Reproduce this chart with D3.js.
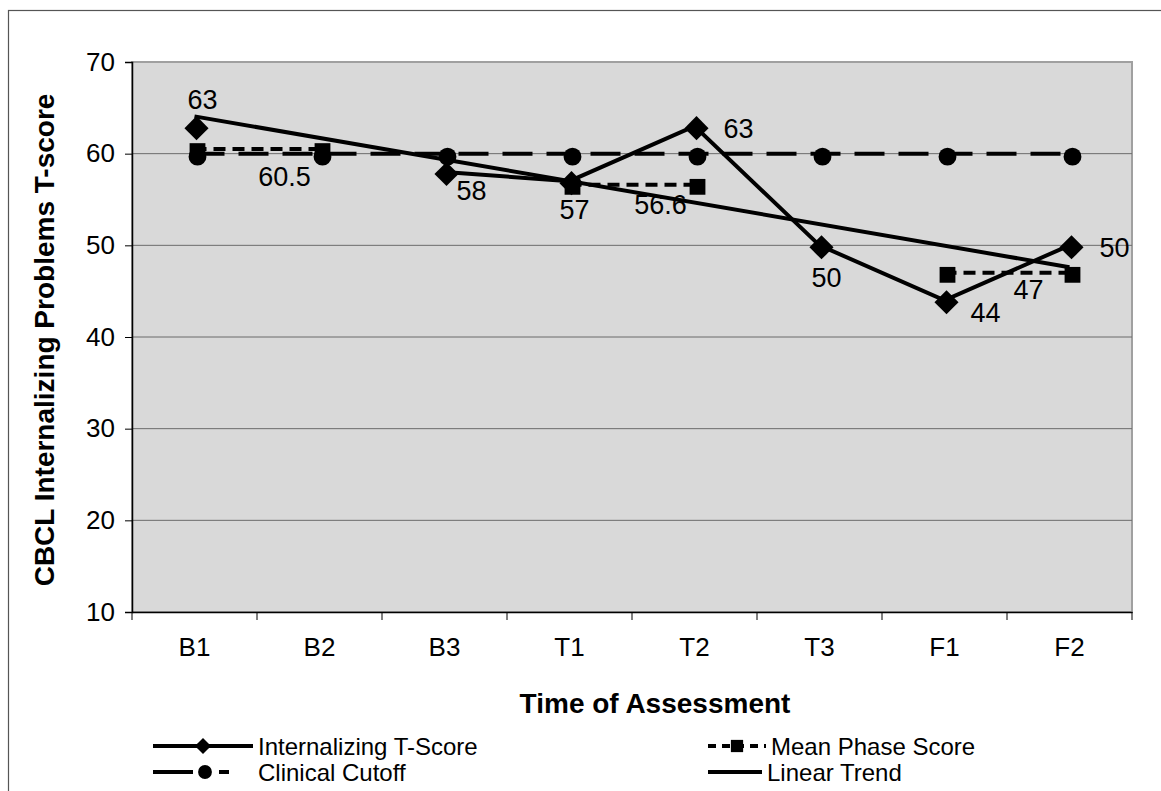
<!DOCTYPE html>
<html>
<head>
<meta charset="utf-8">
<script src="https://cdn.jsdelivr.net/npm/d3@7"></script>
<style>
  html, body { margin: 0; padding: 0; background: #fff; }
  svg { display: block; }
  text { font-family: "Liberation Sans", Arial, sans-serif; fill: #000; }
</style>
</head>
<body>
<svg id="chart" width="1161" height="791"></svg>
<script>
// ---------- data ----------
const categories = ["B1", "B2", "B3", "T1", "T2", "T3", "F1", "F2"];
const internalizing = [63, null, 58, 57, 63, 50, 44, 50];
const meanPhase = [60.5, 60.5, null, 56.6, 56.6, null, 47, 47];
const clinicalCutoff = [60, 60, 60, 60, 60, 60, 60, 60];
const trendCategories = ["B1", "F2"];
const trendValues = [64.07, 47.61];
const yTicks = [10, 20, 30, 40, 50, 60, 70];
const internalizingLabels = ["63", null, "58", "57", "63", "50", "44", "50"];
const meanPhaseLabels = [null, "60.5", null, null, "56.6", null, null, "47"];
const seriesNames = ["Internalizing T-Score", "Mean Phase Score", "Clinical Cutoff", "Linear Trend"];
const yTitle = "CBCL Internalizing Problems T-score";
const xTitle = "Time of Assessment";

// ---------- layout ----------
const plot = { left: 132, top: 62, right: 1132, bottom: 612 };
const internalizingLabelOffsets = [[8, -26], null, [27, 19], [5, 29], [44, 3], [7, 33], [41, 13], [45, 3]];
const meanPhaseLabelOffsets = [null, [-35, 28], null, null, [-34, 20], null, null, [-41, 17]];

const svg = d3.select("#chart");

// outer chart border
svg.append("rect").attr("x", 8.5).attr("y", 10.5).attr("width", 1300).attr("height", 900)
  .attr("fill", "#fff").attr("stroke", "#555").attr("stroke-width", 1.2);

const x = d3.scaleBand().domain(categories).range([plot.left, plot.right]).padding(0);
const y = d3.scaleLinear().domain([10, 70]).range([plot.bottom, plot.top]);
const cx = c => x(c) + x.bandwidth() / 2;

// plot area
svg.append("rect").attr("x", plot.left).attr("y", plot.top)
  .attr("width", plot.right - plot.left).attr("height", plot.bottom - plot.top)
  .attr("fill", "#d9d9d9").attr("stroke", "#a0a0a0").attr("stroke-width", 2);

// gridlines
svg.append("g").selectAll("line").data(yTicks.filter(t => t > 10 && t < 70)).join("line")
  .attr("x1", plot.left).attr("x2", plot.right)
  .attr("y1", d => y(d)).attr("y2", d => y(d))
  .attr("stroke", "#6b6b6b").attr("stroke-width", 1);

// y axis
const yAxis = d3.axisLeft(y).tickValues(yTicks).tickSize(7).tickPadding(10).tickFormat(d3.format("d"));
const gy = svg.append("g").attr("transform", `translate(${plot.left},0)`).call(yAxis);
gy.select(".domain").attr("stroke", "#000").attr("stroke-width", 1.5);
gy.selectAll(".tick line").attr("stroke", "#000");
gy.selectAll(".tick text").style("font-size", "26px").attr("font-family", "Liberation Sans, Arial, sans-serif");

// x axis
const xAxis = d3.axisBottom(x).tickSize(0).tickPadding(26);
const gx = svg.append("g").attr("transform", `translate(0,${plot.bottom})`).call(xAxis);
gx.select(".domain").attr("stroke", "#000").attr("stroke-width", 1.5);
gx.selectAll(".tick text").style("font-size", "26px").attr("font-family", "Liberation Sans, Arial, sans-serif");
// boundary ticks
svg.append("g").selectAll("line").data(categories.concat(["__end"])).join("line")
  .attr("x1", (d, i) => i < categories.length ? x(d) : plot.right)
  .attr("x2", (d, i) => i < categories.length ? x(d) : plot.right)
  .attr("y1", plot.bottom).attr("y2", plot.bottom + 8)
  .attr("stroke", "#000").attr("stroke-width", 1);

// axis titles
svg.append("text").attr("x", 655).attr("y", 713).attr("text-anchor", "middle")
  .style("font-size", "28px").style("font-weight", "bold").text(xTitle);
svg.append("text").attr("transform", `translate(54,340) rotate(-90)`).attr("text-anchor", "middle")
  .style("font-size", "28px").style("font-weight", "bold").text(yTitle);

// ---------- series ----------
const lineGen = d3.line().defined(d => d.v !== null).x(d => cx(d.c)).y(d => y(d.v));
const toPts = arr => categories.map((c, i) => ({ c, v: arr[i] }));

// clinical cutoff
svg.append("path").datum(toPts(clinicalCutoff)).attr("d", lineGen)
  .attr("fill", "none").attr("stroke", "#000").attr("stroke-width", 4).attr("stroke-dasharray", "30,14");
// mean phase
svg.append("path").datum(toPts(meanPhase)).attr("d", lineGen)
  .attr("fill", "none").attr("stroke", "#000").attr("stroke-width", 4).attr("stroke-dasharray", "12,7");
// linear trend
svg.append("path").datum(trendCategories.map((c, i) => ({ c, v: trendValues[i] }))).attr("d", lineGen)
  .attr("fill", "none").attr("stroke", "#000").attr("stroke-width", 4);
// internalizing
svg.append("path").datum(toPts(internalizing)).attr("d", lineGen)
  .attr("fill", "none").attr("stroke", "#000").attr("stroke-width", 4);

// markers
const circleSym = d3.symbol().type(d3.symbolCircle).size(250);
const squareSym = d3.symbol().type(d3.symbolSquare).size(250);
const diamondSym = d3.symbol().type(d3.symbolSquare).size(290);

svg.append("g").selectAll("path").data(toPts(clinicalCutoff)).join("path")
  .attr("d", circleSym).attr("transform", d => `translate(${cx(d.c) + 3},${y(d.v) + 3})`).attr("fill", "#000");
svg.append("g").selectAll("path").data(toPts(meanPhase).filter(d => d.v !== null)).join("path")
  .attr("d", squareSym).attr("transform", d => `translate(${cx(d.c) + 3},${y(d.v) + 2})`).attr("fill", "#000");
svg.append("g").selectAll("path").data(toPts(internalizing).filter(d => d.v !== null)).join("path")
  .attr("d", diamondSym).attr("transform", d => `translate(${cx(d.c) + 2},${y(d.v) + 2}) rotate(45)`).attr("fill", "#000");

// data labels
const labG = svg.append("g").style("font-size", "27px");
categories.forEach((c, i) => {
  if (internalizingLabels[i] !== null) {
    const o = internalizingLabelOffsets[i];
    labG.append("text").attr("x", cx(c) + o[0]).attr("y", y(internalizing[i]) + o[1])
      .attr("text-anchor", "middle").attr("dominant-baseline", "central").text(internalizingLabels[i]);
  }
  if (meanPhaseLabels[i] !== null) {
    const o = meanPhaseLabelOffsets[i];
    labG.append("text").attr("x", cx(c) + o[0]).attr("y", y(meanPhase[i]) + o[1])
      .attr("text-anchor", "middle").attr("dominant-baseline", "central").text(meanPhaseLabels[i]);
  }
});

// ---------- legend ----------
const legendItems = [
  { name: seriesNames[0], x: 153, y: 746, w: 100, marker: "diamond", dash: null },
  { name: seriesNames[1], x: 708, y: 746, w: 58, marker: "square", dash: "8,6" },
  { name: seriesNames[2], x: 153, y: 772, w: 100, marker: "circle", dash: "40,26,10,100" },
  { name: seriesNames[3], x: 708, y: 772, w: 54, marker: null, dash: null }
];
const lg = svg.append("g");
legendItems.forEach(it => {
  const g = lg.append("g").attr("transform", `translate(${it.x},${it.y})`);
  g.append("line").attr("x1", 0).attr("x2", it.w).attr("y1", 0).attr("y2", 0)
    .attr("stroke", "#000").attr("stroke-width", 4).attr("stroke-dasharray", it.dash);
  if (it.marker === "diamond") g.append("path").attr("d", d3.symbol().type(d3.symbolSquare).size(130)).attr("transform", `translate(${it.w / 2},0) rotate(45)`);
  if (it.marker === "square") g.append("path").attr("d", d3.symbol().type(d3.symbolSquare).size(150)).attr("transform", `translate(${it.w / 2},0)`);
  if (it.marker === "circle") g.append("path").attr("d", d3.symbol().type(d3.symbolCircle).size(150)).attr("transform", "translate(52,0)");
  g.append("text").attr("x", it.w + 5).attr("y", 0).attr("dominant-baseline", "central")
    .style("font-size", "24px").text(it.name);
});
</script>
</body>
</html>
